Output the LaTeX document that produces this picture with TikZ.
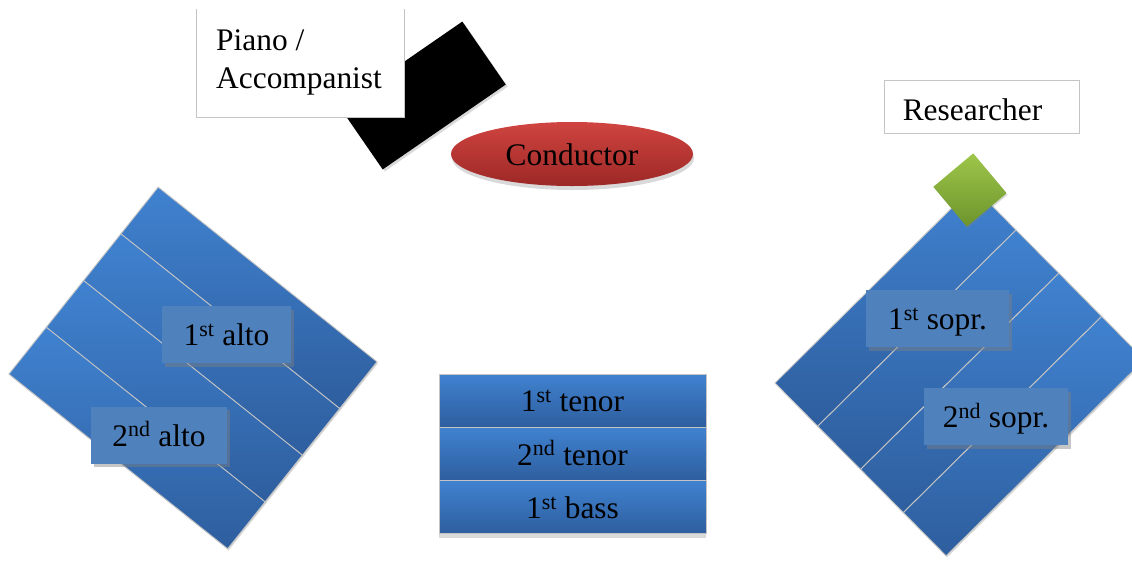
\documentclass[tikz,border=0pt]{standalone}
\usepackage{fontspec}
\setmainfont{Liberation Serif}
\usetikzlibrary{shapes.geometric,shadows}
\definecolor{barlight}{RGB}{64,130,208}
\definecolor{bardark}{RGB}{46,94,158}
\definecolor{tagblue}{RGB}{79,129,189}
\definecolor{condlight}{RGB}{208,68,64}
\definecolor{conddark}{RGB}{156,40,38}
\definecolor{greenlight}{RGB}{158,198,74}
\definecolor{greendark}{RGB}{108,148,44}
\definecolor{edge}{RGB}{196,196,196}
\begin{document}
\begin{tikzpicture}[x=1pt,y=-1pt,font=\fontsize{31.4}{38}\selectfont,
  bar/.style={rectangle,inner sep=0,minimum width=280pt,minimum height=60pt,top color=barlight,bottom color=bardark,draw=edge,line width=.9pt,drop shadow={shadow xshift=1pt,shadow yshift=-1.5pt,opacity=.3}},
  tag/.style={rectangle,inner sep=0,minimum height=57pt,fill=tagblue,text height=26pt,text depth=4pt,drop shadow={shadow xshift=3pt,shadow yshift=-3.5pt,opacity=.45}},
  row/.style={rectangle,inner sep=0,minimum width=267pt,minimum height=53.3pt,top color=barlight,bottom color=bardark,draw=edge,line width=1pt,text height=26pt,text depth=4pt,drop shadow={shadow xshift=0pt,shadow yshift=-4pt,opacity=.3}},
  plain/.style={inner sep=0,text height=26pt,text depth=4pt}]
\useasboundingbox (0,0) rectangle (1132,563);
\clip (0,0) rectangle (1132,563);

\node[rectangle,inner sep=0,minimum width=149.5pt,minimum height=76.5pt,fill=black,rotate=34.6,drop shadow={shadow xshift=2pt,shadow yshift=-2pt,opacity=.3}] (piano) at (422.5,95.5) {};
\node[fill=white,inner sep=0,minimum width=207pt,minimum height=108pt] (pianobox) at (300.5,63) {};
\draw[edge,line width=1pt] (pianobox.north west) |- (pianobox.south east) -- (pianobox.north east);
\node[anchor=base west,inner sep=0] (pianotext) at (216,50) {Piano /};
\node[anchor=base west,inner sep=0] (accomp) at (216,88) {Accompanist};

\node[ellipse,inner sep=0,minimum width=242pt,minimum height=64pt,top color=condlight,bottom color=conddark,text height=26pt,text depth=4pt,drop shadow={shadow xshift=1pt,shadow yshift=-4pt,opacity=.3}] (conductor) at (572,154) {Conductor};

\node[fill=white,draw=edge,line width=1pt,inner sep=0,minimum width=195pt,minimum height=53pt] (researcher) at (981.5,106.5) {};
\node[plain] (researchtext) at (972.5,109.7) {Researcher};

\foreach \i in {0,1,2,3}
\node[bar,rotate=-38.6] (alto\i) at (248.9-37.3*\i,297.9+46.7*\i) {};
\node[tag,minimum width=129pt] (alto1st) at (226.5,334.5) {1\textsuperscript{st} alto};
\node[tag,minimum width=136pt] (alto2nd) at (159,435) {2\textsuperscript{nd} alto};

\node[row] (tenor1) at (572.5,400.7) {1\textsuperscript{st} tenor};
\node[row] (tenor2) at (572.5,454) {2\textsuperscript{nd} tenor};
\node[row] (bass1) at (572.5,507.3) {1\textsuperscript{st} bass};

\foreach \i in {0,1,2,3}
\node[bar,rotate=44.7,minimum width=279pt,minimum height=60.8pt] (sopr\i) at (895.5+42.8*\i,306.5+43.2*\i) {};
\node[rectangle,inner sep=0,minimum size=52pt,rotate=40,top color=greenlight,bottom color=greendark,drop shadow={shadow xshift=1pt,shadow yshift=-1.5pt,opacity=.3}] (seat) at (970,190) {};
\node[tag,minimum width=143pt] (sopr1st) at (937.5,318.5) {1\textsuperscript{st} sopr.};
\node[tag,minimum width=144pt] (sopr2nd) at (996,416.5) {2\textsuperscript{nd} sopr.};
\end{tikzpicture}
\end{document}
